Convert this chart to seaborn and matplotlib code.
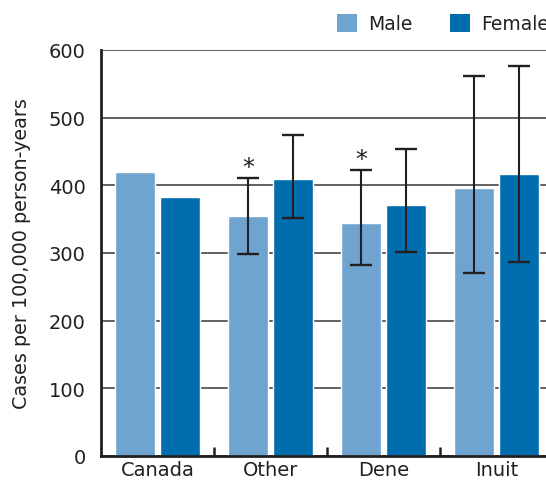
import numpy as np
import pandas as pd
import matplotlib
matplotlib.use("Agg")
import matplotlib.pyplot as plt
from matplotlib.patches import Patch
import seaborn as sns

# Incidence rates by group and sex, with 95% confidence limits
groups = ["Canada", "Other", "Dene", "Inuit"]
male_rate = [420, 355, 344, 396]
female_rate = [383, 409, 371, 417]
male_low = [np.nan, 299, 282, 271]
male_high = [np.nan, 411, 422, 562]
female_low = [np.nan, 352, 301, 286]
female_high = [np.nan, 475, 453, 577]
significant_male = [False, True, True, False]
sexes = ["Male", "Female"]
palette = {"Male": "#6fa4d0", "Female": "#006eae"}

df = pd.DataFrame({
    "group": groups * 2,
    "sex": ["Male"] * 4 + ["Female"] * 4,
    "rate": male_rate + female_rate,
    "low": male_low + female_low,
    "high": male_high + female_high,
})

sns.set_theme(style="white")
plt.rcParams["font.family"] = ["DejaVu Sans"]
ink = "#231f20"

fig = plt.figure(figsize=(5.46, 4.81), dpi=100)
ax = fig.add_axes([101 / 546, 1 - 457 / 481, 452 / 546, (457 - 51) / 481])

sns.barplot(data=df, x="group", y="rate", hue="sex", order=groups,
            hue_order=sexes, palette=palette, width=0.8, gap=0.1,
            errorbar=None, saturation=1, ax=ax, zorder=2, legend=False)

# Confidence intervals, placed on the bar centres
for patch, (_, row) in zip(ax.patches, df.iterrows()):
    if np.isnan(row["low"]):
        continue
    xc = patch.get_x() + patch.get_width() / 2
    ax.errorbar(xc, row["rate"],
                yerr=[[row["rate"] - row["low"]], [row["high"] - row["rate"]]],
                fmt="none", ecolor=ink, elinewidth=1.5, capsize=8,
                capthick=1.7, zorder=3)

# Asterisks mark significant differences from Canada
male_patches = ax.patches[:4]
for patch, flag, hi in zip(male_patches, significant_male, male_high):
    if flag:
        xc = patch.get_x() + patch.get_width() / 2
        ax.text(xc, hi + 6, "*", ha="center", va="baseline",
                fontsize=17, color=ink, zorder=4)

ax.set_ylim(0, 600)
ax.set_xlim(-0.5, 3.5)
ax.set_yticks(range(0, 601, 100))
ax.yaxis.grid(True, color="#555555", linewidth=1.3, zorder=0)
ax.set_axisbelow(True)
ax.tick_params(axis="y", left=False, length=0, labelsize=14,
               labelcolor=ink, pad=11)
ax.tick_params(axis="x", bottom=False, length=0, labelsize=14,
               labelcolor=ink, pad=3)
ax.set_xlabel("")
ax.set_ylabel("Cases per 100,000 person-years", fontsize=13.8, color=ink,
              labelpad=13)

for side in ["top", "right"]:
    ax.spines[side].set_visible(False)
for side in ["left", "bottom"]:
    ax.spines[side].set_color(ink)
    ax.spines[side].set_linewidth(2.0)

# Short upward ticks separating the groups
for xb in [0.5, 1.5, 2.5]:
    ax.plot([xb, xb], [0, 13], color=ink, linewidth=1.8, zorder=4,
            solid_capstyle="butt")

handles = [Patch(facecolor=palette[s], edgecolor="none") for s in sexes]
fig.legend(handles, sexes, loc="upper left",
           bbox_to_anchor=(337 / 546, 1 - 15 / 481), ncol=2, frameon=False,
           fontsize=13.5, handlelength=1.08, handleheight=1.08,
           handletextpad=0.58, columnspacing=2.0, labelcolor=ink,
           borderpad=0, borderaxespad=0)

fig.savefig("out.png", dpi=100)
